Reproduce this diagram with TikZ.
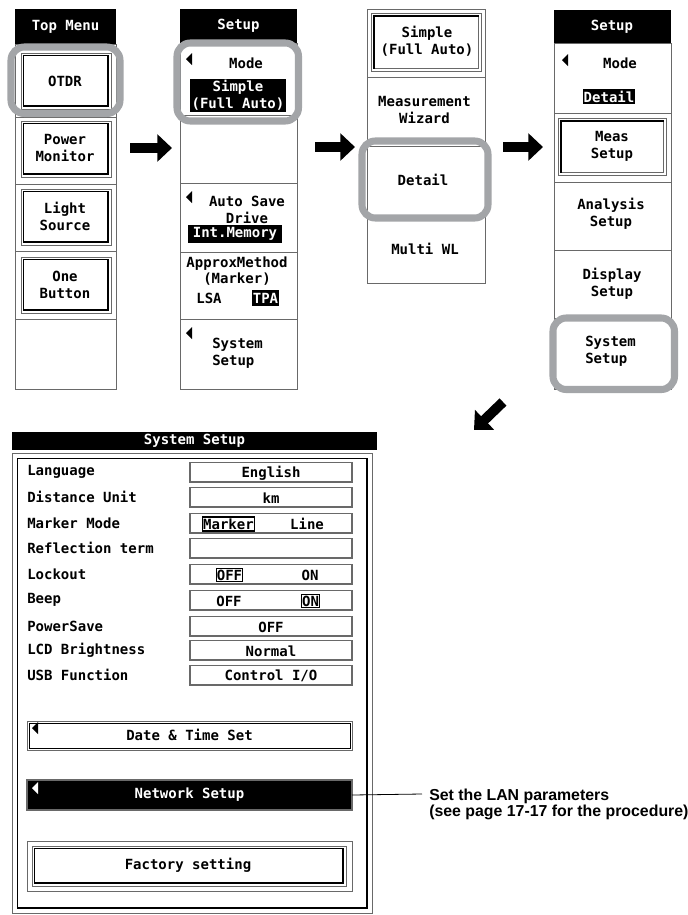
\documentclass[tikz,border=0pt]{standalone}
\usepackage{fontspec}
\setmainfont{Liberation Sans}
\newfontfamily\lcdfont{DejaVu Sans Mono}
\usetikzlibrary{arrows.meta}
\definecolor{hlgray}{RGB}{163,165,168}
\definecolor{cellgray}{RGB}{105,105,105}
\tikzset{
  lcd/.style={font=\lcdfont\bfseries\fontsize{10.5}{12.6}\selectfont, inner sep=0pt, align=center},
  cell/.style={draw=cellgray, line width=0.7pt},
  hl/.style={draw=hlgray, line width=5.3pt, rounded corners=10pt},
  bigarrow/.style={line width=7.5pt, -{Triangle[length=11pt,width=20pt]}},
  wtxt/.style={lcd, text=white},
  framed/.style={draw=black, line width=0.8pt, inner xsep=0.6pt, inner ysep=1.2pt},
  valbox/.style={draw=cellgray, line width=0.9pt},
  note/.style={font=\bfseries\fontsize{11.9}{12}\selectfont, align=left, inner sep=0pt},
}
\newcommand{\mybtnR}[4]{%
  \draw[cellgray, line width=0.6pt] (#1,#2) rectangle (#3,#4);
  \draw[black, line width=0.6pt] (#1+2.5,#4-2.5) -- (#1+2.5,#2+2.5) -- (#3-2.5,#2+2.5);
  \draw[black, line width=2.2pt] (#1+2.5,#4-3) -- (#3-3,#4-3) -- (#3-3,#2+2.5);
}
\newcommand{\mybtnP}[4]{%
  \draw[cellgray, line width=0.6pt] (#1,#2) rectangle (#3,#4);
  \draw[cellgray, line width=0.6pt] (#1+3,#4-2.5) -- (#3-2.5,#4-2.5) -- (#3-2.5,#2+3);
  \draw[black, line width=2.2pt] (#1+3,#4-2.5) -- (#1+3,#2+3) -- (#3-2.5,#2+3);
}
\newcommand{\mytri}[3]{%
  \fill[#3] (#1,#2) -- (#1+6,#2-6) -- (#1+6,#2+6) -- cycle;
}
\begin{document}
\begin{tikzpicture}[x=0.75pt,y=-0.75pt]
\useasboundingbox (0,0) rectangle (688,915);

% ---------------- Panel 1: Top Menu
\fill[black] (15,9) rectangle (116,44);
\node[wtxt] (p1h) at (65.5,26.5) {Top Menu};
\draw[cell] (15,44) rectangle (116,117);
\draw[cell] (15,117) rectangle (116,184);
\draw[cell] (15,184) rectangle (116,251);
\draw[cell] (15,251) rectangle (116,319);
\draw[cell] (15,319) rectangle (116,389);
\mybtnR{21}{53}{111}{109}
\mybtnR{21}{121}{111}{177}
\mybtnR{21}{189}{111}{245}
\mybtnR{21}{257}{111}{313}
\node[lcd] (p1a) at (65,81) {OTDR};
\node[lcd] (p1b) at (65,148) {Power\\Monitor};
\node[lcd] (p1c) at (65,216.5) {Light\\Source};
\node[lcd] (p1d) at (65,285) {One\\Button};
\draw[hl] (11,47) rectangle (120,113.5);

% ---------------- Panel 2: Setup
\fill[black] (180,9) rectangle (297,43);
\node[wtxt] (p2h) at (238.5,26) {Setup};
\draw[cell] (180,43) rectangle (297,115);
\draw[cell] (180,115) rectangle (297,183);
\draw[cell] (180,183) rectangle (297,252);
\draw[cell] (180,252) rectangle (297,319);
\draw[cell] (180,319) rectangle (297,389);
\mytri{186}{59}{black}
\node[lcd] (p2m) at (246,63) {Mode};
\fill[black] (190,79) rectangle (286,112);
\node[wtxt] (p2s) at (238,95.5) {Simple\\(Full Auto)};
\mytri{186}{197}{black}
\node[lcd] (p2a) at (247,210) {Auto Save\\Drive};
\fill[black] (188,225) rectangle (282,243);
\node[wtxt] (p2i) at (235,234) {Int.Memory};
\node[lcd] (p2x) at (237,271) {ApproxMethod\\(Marker)};
\node[lcd] (p2l) at (209,298) {LSA};
\fill[black] (252,290) rectangle (279,306);
\node[wtxt] (p2t) at (265.5,298) {TPA};
\mytri{186}{333}{black}
\node[lcd, align=left, anchor=west] (p2y) at (212,353.5) {System\\Setup};
\draw[hl] (177,43) rectangle (298.5,121);

% ---------------- Panel 3: mode options
\draw[cell] (367,9) rectangle (485,77);
\draw[cell] (367,77) rectangle (485,146);
\draw[cell] (367,146) rectangle (485,216);
\draw[cell] (367,216) rectangle (485,283);
\mybtnP{371}{13}{481}{71}
\node[lcd] (p3a) at (427,41.5) {Simple\\(Full Auto)};
\node[lcd] (p3b) at (424.5,110) {Measurement\\Wizard};
\node[lcd] (p3c) at (423,180) {Detail};
\node[lcd] (p3d) at (425,249) {Multi WL};
\draw[hl] (362,141) rectangle (488,218);

% ---------------- Panel 4: Setup
\fill[black] (554,10) rectangle (671,43);
\node[wtxt] (p4h) at (612,26.5) {Setup};
\draw[cell] (554,43) rectangle (671,113);
\draw[cell] (554,113) rectangle (671,182);
\draw[cell] (554,182) rectangle (671,250);
\draw[cell] (554,250) rectangle (671,318);
\draw[cell] (554,318) rectangle (671,389);
\mytri{562}{60}{black}
\node[lcd] (p4m) at (620,63) {Mode};
\fill[black] (583,89) rectangle (635,104);
\node[wtxt] (p4d) at (609,96.5) {Detail};
\mybtnP{558}{118}{666}{175}
\node[lcd] (p4a) at (612,146) {Meas\\Setup};
\node[lcd] (p4b) at (611,214) {Analysis\\Setup};
\node[lcd] (p4c) at (612,283.5) {Display\\Setup};
\fill[white] (556,320) rectangle (670,387);
\node[lcd, align=left, anchor=west] (p4s) at (585,351.5) {System\\Setup};
\draw[hl] (553,318) rectangle (674.5,389.5);

% ---------------- Arrows
\coordinate (a1s) at (130,148); \coordinate (a1e) at (172,148);
\coordinate (a2s) at (315,147); \coordinate (a2e) at (355,147);
\coordinate (a3s) at (503,147); \coordinate (a3e) at (543,147);
\coordinate (a4s) at (503,402); \coordinate (a4e) at (474,430);
\draw[bigarrow] (a1s) -- (a1e);
\draw[bigarrow] (a2s) -- (a2e);
\draw[bigarrow] (a3s) -- (a3e);
\draw[bigarrow] (a4s) -- (a4e);

% ---------------- System Setup panel
\fill[black] (12,432) rectangle (377,450);
\node[wtxt] (sh) at (194.5,441) {System Setup};
\draw[cellgray, line width=0.6pt] (12,453) rectangle (372,913);
\draw[black, line width=0.6pt] (17,908) -- (17,458) -- (367,458);
\draw[black, line width=2.2pt] (17,908) -- (367,908) -- (367,458);

\foreach \nm/\lab/\yy in {r1/Language/472, r2/Distance Unit/497, r3/Marker Mode/523,
  r4/Reflection term/548, r5/Lockout/574, r6/Beep/600, r7/PowerSave/626,
  r8/LCD Brightness/650, r9/USB Function/675}{
  \node[lcd, anchor=west] (\nm) at (27,\yy) {\lab};
  \draw[valbox] (190,\yy-9.5) rectangle (352,\yy+10);
}
\node[lcd] (v1) at (271,473) {English};
\node[lcd] (v2) at (271,498) {km};
\node[lcd, framed] (v3a) at (228.5,524) {Marker};
\node[lcd] (v3b) at (307,524) {Line};
\node[lcd, framed] (v5a) at (229.5,575) {OFF};
\node[lcd] (v5b) at (310,575) {ON};
\node[lcd] (v6a) at (229,601) {OFF};
\node[lcd, framed] (v6b) at (310.5,601) {ON};
\node[lcd] (v7) at (271,627) {OFF};
\node[lcd] (v8) at (271,651) {Normal};
\node[lcd] (v9) at (271,676) {Control I/O};

% Date & Time Set
\draw[cellgray, line width=0.6pt] (27,721) rectangle (352,750);
\draw[black, line width=0.6pt] (29,723) rectangle (350,748);
\mytri{32}{728}{black}
\node[lcd] (dt) at (189.5,735) {Date \& Time Set};

% Network Setup
\fill[black] (27,780) rectangle (352,810);
\draw[cellgray, line width=0.8pt] (27,780) rectangle (352,810);
\mytri{32}{788}{white}
\node[wtxt] (ns) at (189.5,795) {Network Setup};

% Factory setting
\draw[cellgray, line width=0.6pt] (27,841) rectangle (352,891);
\mybtnR{32}{846}{346}{886}
\node[lcd] (fs) at (188,865) {Factory setting};

% Annotation
\node[note, anchor=west] (lan) at (429,804) {Set the LAN parameters\\(see page 17-17 for the procedure)};
\coordinate (lanx) at (422,794);
\draw[black, line width=0.6pt] (ns.east -| 352,794) -- (lanx);
\end{tikzpicture}
\end{document}
